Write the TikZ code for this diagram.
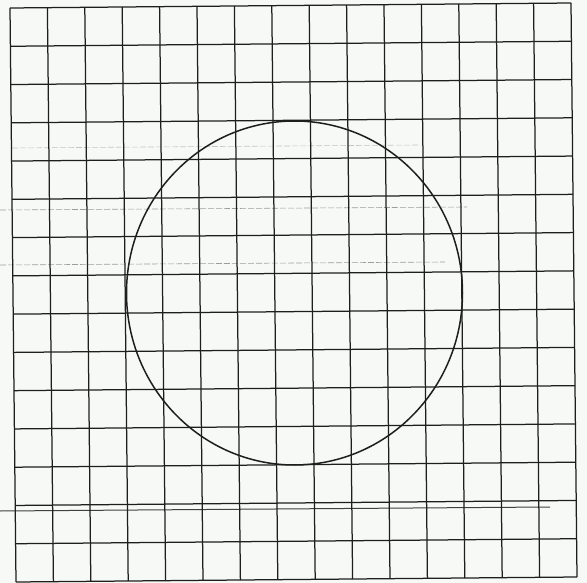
\documentclass[tikz,border=0pt]{standalone}
\usetikzlibrary{calc}
\definecolor{paper}{HTML}{F6F9F6}
\definecolor{ink}{HTML}{1E1E1E}
\definecolor{faint}{HTML}{9A9E9A}
\tikzset{
  gridline/.style={draw=ink, line width=1.25pt},
  circleline/.style={draw=ink, line width=1.5pt},
  scanline/.style={draw=faint, line width=0.6pt, dash pattern=on 6pt off 2pt},
  edgeline/.style={draw=ink!85, line width=1pt}
}
\begin{document}
\begin{tikzpicture}[x=1pt,y=-1pt]
  \fill[paper] (0,0) rectangle (587,583);
  \useasboundingbox (0,0) rectangle (587,583);
  % grid corners
  \coordinate (TL) at (10,8);
  \coordinate (TR) at (571,3);
  \coordinate (BL) at (16,582);
  \coordinate (BR) at (577,577);
  % faint scan lines
  \draw[scanline] (0,210) -- (467,207);
  \draw[scanline] (0,265) -- (445,262);
  \draw[scanline, draw=faint!60] (12,148) -- (420,145);
  \draw[edgeline] (0,511) -- (550,507);
  % grid
  \foreach \i in {0,...,15} {
    \draw[gridline] ($(TL)!\i/15!(TR)$) -- ($(BL)!\i/15!(BR)$);
    \draw[gridline] ($(TL)!\i/15!(BL)$) -- ($(TR)!\i/15!(BR)$);
  }
  % circle
  \coordinate (C) at (294.5,293);
  \draw[circleline] (C) ellipse [x radius=168, y radius=172];
\end{tikzpicture}
\end{document}
